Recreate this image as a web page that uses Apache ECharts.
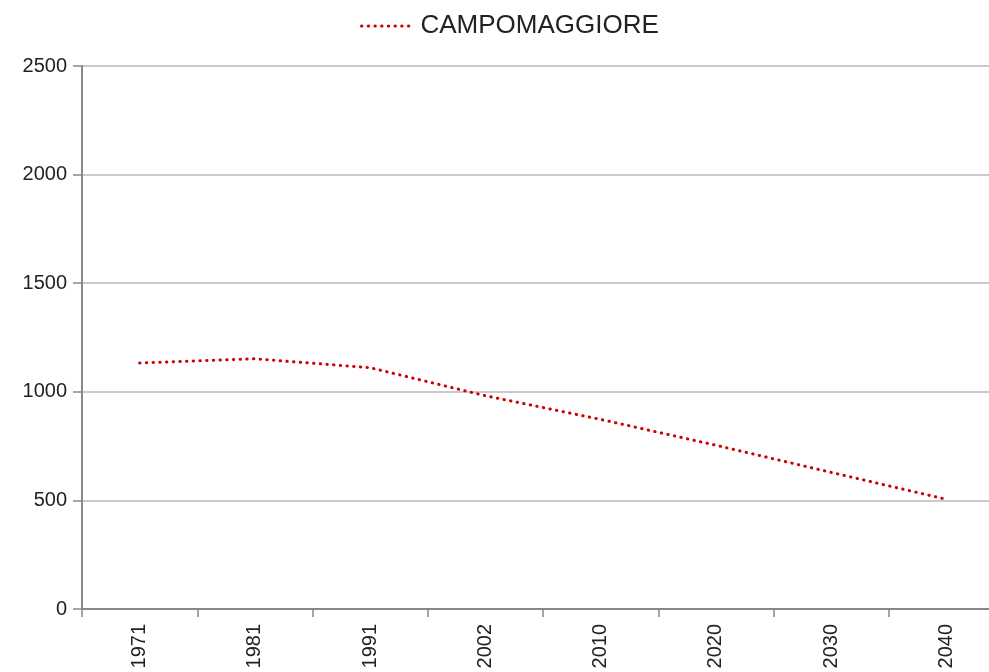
<!DOCTYPE html>
<html>
<head>
<meta charset="utf-8">
<script src="https://cdn.jsdelivr.net/npm/echarts@6/dist/echarts.min.js"></script>
<style>
  html, body { margin: 0; padding: 0; background: #fff; }
  #main_charts { width: 989px; height: 672px; }
</style>
</head>
<body>
<div id="main_charts"></div>
<script>
var years = ['1971', '1981', '1991', '2002', '2010', '2020', '2030', '2040'];
var population = [1133, 1152, 1111, 982, 873, 754, 629, 505];
var yTicks = [0, 500, 1000, 1500, 2000, 2500];
var seriesName = 'CAMPOMAGGIORE';

var myChart = echarts.init(document.getElementById('main_charts'));

var option = {
    animation: false,
    textStyle: { fontFamily: '"Liberation Sans", Arial, sans-serif' },
    legend: {
        data: [seriesName],
        left: 355,
        top: 8,
        itemWidth: 50,
        itemHeight: 14,
        itemStyle: { opacity: 0 },
        lineStyle: { width: 3 },
        textStyle: {
            fontSize: 26,
            color: '#222',
            padding: [0, 0, 0, 4],
            fontFamily: '"Liberation Sans", Arial, sans-serif'
        }
    },
    // the plot runs past the right edge of the picture
    grid: { left: 82, top: 66, width: 922, height: 543, outerBoundsMode: 'none' },
    xAxis: {
        type: 'category',
        data: years,
        boundaryGap: true,
        axisLine: { lineStyle: { color: '#888', width: 2 } },
        axisTick: { show: true, length: 8, lineStyle: { color: '#888', width: 1.5 } },
        axisLabel: {
            rotate: 90,
            margin: 15,
            fontSize: 20,
            color: '#222',
            fontFamily: '"Liberation Sans", Arial, sans-serif'
        },
        splitLine: { show: false }
    },
    yAxis: {
        type: 'value',
        min: yTicks[0],
        max: yTicks[yTicks.length - 1],
        interval: 500,
        axisLine: { show: true, lineStyle: { color: '#888', width: 2 } },
        axisTick: { show: true, length: 9, lineStyle: { color: '#888', width: 1.5 } },
        axisLabel: {
            margin: 15,
            fontSize: 20,
            color: '#222',
            formatter: function (v) { return String(v); },
            fontFamily: '"Liberation Sans", Arial, sans-serif'
        },
        splitLine: { show: true, lineStyle: { color: '#b8b8b8', width: 1.5 } }
    },
    series: [{
        name: seriesName,
        type: 'line',
        data: population,
        symbol: 'none',
        smooth: false,
        lineStyle: {
            color: '#cc0000',
            width: 3,
            type: [0.4, 6.3],
            cap: 'round'
        },
        itemStyle: { color: '#cc0000' }
    }]
};
myChart.setOption(option);
</script>
</body>
</html>
